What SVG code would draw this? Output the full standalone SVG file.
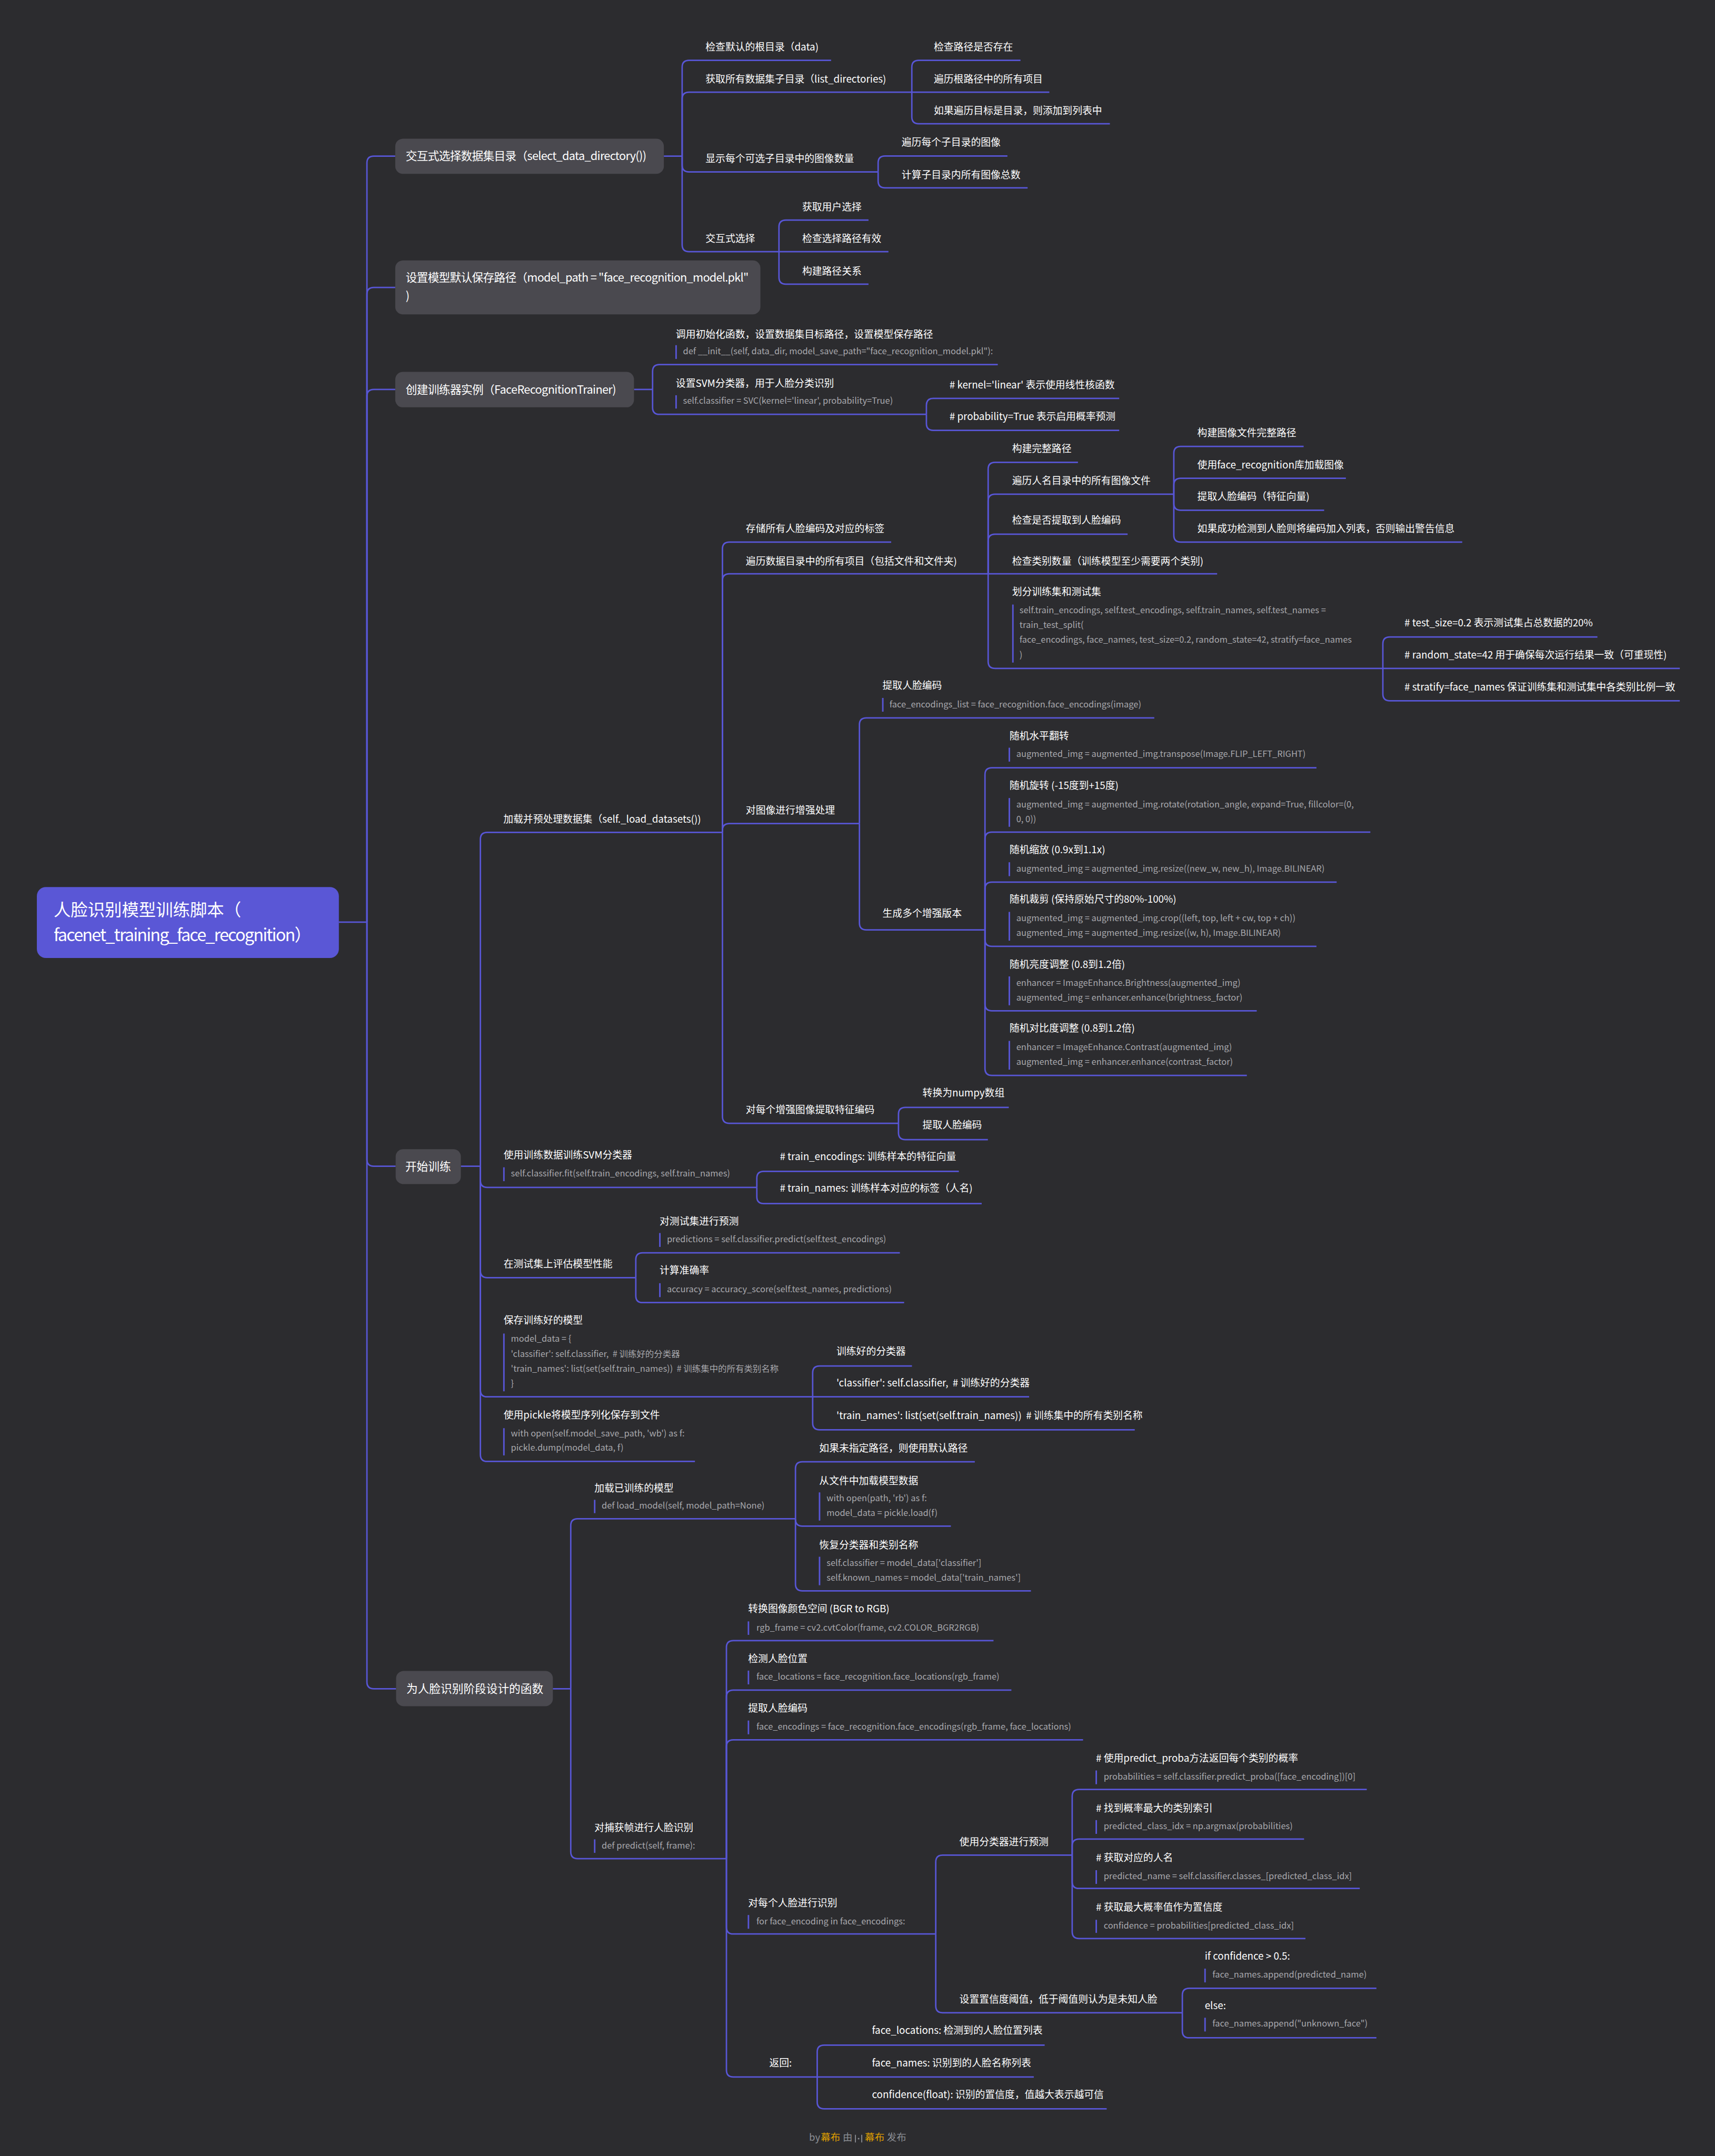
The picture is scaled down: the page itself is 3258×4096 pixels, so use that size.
<svg xmlns="http://www.w3.org/2000/svg" width="3258" height="4096" viewBox="0 0 3258 4096">
<style>
text{font-family:'Noto Sans CJK SC','Noto Sans',sans-serif;white-space:pre}
.root{font-size:12.4px;fill:#ffffff}
.l1{font-size:8.3px;fill:#ffffff}
.t{font-size:7.2px;fill:#ffffff}
.c{font-size:6.3px;fill:#a8a8ad}
.box{fill:#4a494f}
.rbox{fill:#5a57d6}
.bar{stroke:#5856d6;stroke-width:1.1}
.ln{fill:none;stroke:#5856d6;stroke-width:1.05}
.ft{font-size:7.1px;fill:#8b8e94}
.fo{font-size:7.1px;fill:#e0a000}
</style>
<rect x="0" y="0" width="3258" height="4096" fill="#2c2c2f"/>
<g transform="scale(2.61267)">
<g id="connectors" class="ln">
<path d="M246.4 670.5H266.8"/>
<path d="M266.8 670.5V118.5Q266.8 113.5 271.8 113.5H287.4"/>
<path d="M266.8 670.5V214Q266.8 209 271.8 209H287.4"/>
<path d="M266.8 670.5V288.2Q266.8 283.2 271.8 283.2H287.4"/>
<path d="M266.8 670.5V843Q266.8 848 271.8 848H287.7"/>
<path d="M266.8 670.5V1223Q266.8 1228 271.8 1228H288"/>
<path d="M482.7 113.5H496"/>
<path d="M496 113.5V48.9Q496 43.9 501 43.9H604.3"/>
<path d="M496 113.5V72Q496 67 501 67H663"/>
<path d="M496 113.5V120Q496 125 501 125H638.5"/>
<path d="M496 113.5V178Q496 183 501 183H566.4"/>
<path d="M663 67V48.9Q663 43.9 668 43.9H742"/>
<path d="M663 67H763"/>
<path d="M663 67V85Q663 90 668 90H807"/>
<path d="M638.5 125V118.4Q638.5 113.4 643.5 113.4H732.5"/>
<path d="M638.5 125V131.6Q638.5 136.6 643.5 136.6H747.2"/>
<path d="M566.4 183V165Q566.4 160 571.4 160H631.5"/>
<path d="M566.4 183H646"/>
<path d="M566.4 183V201.6Q566.4 206.6 571.4 206.6H631.5"/>
<path d="M461 283.2H474.5"/>
<path d="M474.5 283.2V270.1Q474.5 265.1 479.5 265.1H725.5"/>
<path d="M474.5 283.2V296.3Q474.5 301.3 479.5 301.3H673.6"/>
<path d="M673.6 301.3V294.7Q673.6 289.7 678.6 289.7H813.8"/>
<path d="M673.6 301.3V307.9Q673.6 312.9 678.6 312.9H813.8"/>
<path d="M335.1 848H349.3"/>
<path d="M349.3 848V610.3Q349.3 605.3 354.3 605.3H525.3"/>
<path d="M349.3 848V858.4Q349.3 863.4 354.3 863.4H550.3"/>
<path d="M349.3 848V924.1Q349.3 929.1 354.3 929.1H462.3"/>
<path d="M349.3 848V1010.7Q349.3 1015.7 354.3 1015.7H590.9"/>
<path d="M349.3 848V1057.7Q349.3 1062.7 354.3 1062.7H505.3"/>
<path d="M525.3 605.3V399.2Q525.3 394.2 530.3 394.2H648"/>
<path d="M525.3 605.3V422.2Q525.3 417.2 530.3 417.2H718.5"/>
<path d="M525.3 605.3V603.9Q525.3 598.9 530.3 598.9H624.9"/>
<path d="M525.3 605.3V811.8Q525.3 816.8 530.3 816.8H653.3"/>
<path d="M718.5 417.2V341.2Q718.5 336.2 723.5 336.2H783.8"/>
<path d="M718.5 417.2V364.4Q718.5 359.4 723.5 359.4H853.5"/>
<path d="M718.5 417.2V393.4Q718.5 388.4 723.5 388.4H819.9"/>
<path d="M718.5 417.2H885"/>
<path d="M718.5 417.2V481Q718.5 486 723.5 486H1005.5"/>
<path d="M853.5 359.4V329.6Q853.5 324.6 858.5 324.6H947.9"/>
<path d="M853.5 359.4V352.8Q853.5 347.8 858.5 347.8H978.6"/>
<path d="M853.5 359.4V366Q853.5 371 858.5 371H962.8"/>
<path d="M853.5 359.4V389.2Q853.5 394.2 858.5 394.2H1063.2"/>
<path d="M1005.5 486V468.2Q1005.5 463.2 1010.5 463.2H1161.5"/>
<path d="M1005.5 486H1221.4"/>
<path d="M1005.5 486V504.6Q1005.5 509.6 1010.5 509.6H1221.4"/>
<path d="M624.9 598.9V527Q624.9 522 629.9 522H839.3"/>
<path d="M624.9 598.9V671.2Q624.9 676.2 629.9 676.2H716.2"/>
<path d="M716.2 676.2V563.3Q716.2 558.3 721.2 558.3H957.2"/>
<path d="M716.2 676.2V610.1Q716.2 605.1 721.2 605.1H996.4"/>
<path d="M716.2 676.2V646.4Q716.2 641.4 721.2 641.4H971.9"/>
<path d="M716.2 676.2V683.1Q716.2 688.1 721.2 688.1H957.2"/>
<path d="M716.2 676.2V730Q716.2 735 721.2 735H913.8"/>
<path d="M716.2 676.2V777Q716.2 782 721.2 782H906.6"/>
<path d="M653.3 816.8V810.3Q653.3 805.3 658.3 805.3H733.5"/>
<path d="M653.3 816.8V823.7Q653.3 828.7 658.3 828.7H718.3"/>
<path d="M550.3 863.4V856.8Q550.3 851.8 555.3 851.8H697.2"/>
<path d="M550.3 863.4V870.2Q550.3 875.2 555.3 875.2H713.8"/>
<path d="M462.3 929.1V916Q462.3 911 467.3 911H654.3"/>
<path d="M462.3 929.1V942.2Q462.3 947.2 467.3 947.2H657.4"/>
<path d="M590.9 1015.7V998.3Q590.9 993.3 595.9 993.3H663.1"/>
<path d="M590.9 1015.7H748.3"/>
<path d="M590.9 1015.7V1034.7Q590.9 1039.7 595.9 1039.7H825.1"/>
<path d="M402 1228H415"/>
<path d="M415 1228V1109.4Q415 1104.4 420 1104.4H578.4"/>
<path d="M415 1228V1346.5Q415 1351.5 420 1351.5H528.2"/>
<path d="M578.4 1104.4V1067.9Q578.4 1062.9 583.4 1062.9H708.8"/>
<path d="M578.4 1104.4V1104.7Q578.4 1109.7 583.4 1109.7H691.4"/>
<path d="M578.4 1104.4V1151.8Q578.4 1156.8 583.4 1156.8H749.6"/>
<path d="M528.2 1351.5V1198Q528.2 1193 533.2 1193H722.4"/>
<path d="M528.2 1351.5V1234Q528.2 1229 533.2 1229H735.4"/>
<path d="M528.2 1351.5V1270.1Q528.2 1265.1 533.2 1265.1H787.5"/>
<path d="M528.2 1351.5V1401.3Q528.2 1406.3 533.2 1406.3H680.4"/>
<path d="M528.2 1351.5V1505.3Q528.2 1510.3 533.2 1510.3H594.2"/>
<path d="M680.4 1406.3V1354Q680.4 1349 685.4 1349H779.6"/>
<path d="M680.4 1406.3V1458.6Q680.4 1463.6 685.4 1463.6H859.7"/>
<path d="M779.6 1349V1306.2Q779.6 1301.2 784.6 1301.2H993.8"/>
<path d="M779.6 1349V1342.3Q779.6 1337.3 784.6 1337.3H948.2"/>
<path d="M779.6 1349V1368.2Q779.6 1373.2 784.6 1373.2H988.7"/>
<path d="M779.6 1349V1404.6Q779.6 1409.6 784.6 1409.6H949.2"/>
<path d="M859.7 1463.6V1450.8Q859.7 1445.8 864.7 1445.8H1000.8"/>
<path d="M859.7 1463.6V1476.8Q859.7 1481.8 864.7 1481.8H1000.8"/>
<path d="M594.2 1510.3V1492.1Q594.2 1487.1 599.2 1487.1H759.6"/>
<path d="M594.2 1510.3H751.7"/>
<path d="M594.2 1510.3V1528.4Q594.2 1533.4 599.2 1533.4H804.7"/>
</g>

<g id="root"><rect class="rbox" x="26.8" y="645" width="219.6" height="51.6" rx="6.5"/><text class="root" x="39" y="665.8">人脸识别模型训练脚本（</text><text class="root" x="39" y="684.4" textLength="187.5">facenet_training_face_recognition）</text></g>

<g id="n-select"><rect class="box" x="287.4" y="100.9" width="195.3" height="25.5" rx="5.5"/><text class="l1" x="295" y="116.5" textLength="175">交互式选择数据集目录（select_data_directory())</text></g>
<g id="n-check-root"><text class="t" x="513" y="36.7">检查默认的根目录（data)</text></g>
<g id="n-list-dirs"><text class="t" x="513" y="60">获取所有数据集子目录（list_directories)</text></g>
<g id="n-path-exists"><text class="t" x="679" y="36.7">检查路径是否存在</text></g>
<g id="n-iter-root"><text class="t" x="679" y="60">遍历根路径中的所有项目</text></g>
<g id="n-add-dir"><text class="t" x="679" y="83.1">如果遍历目标是目录，则添加到列表中</text></g>
<g id="n-show-count"><text class="t" x="513" y="118">显示每个可选子目录中的图像数量</text></g>
<g id="n-iter-sub"><text class="t" x="655.6" y="106">遍历每个子目录的图像</text></g>
<g id="n-count-total"><text class="t" x="655.6" y="129.9">计算子目录内所有图像总数</text></g>
<g id="n-interactive"><text class="t" x="513" y="176">交互式选择</text></g>
<g id="n-get-choice"><text class="t" x="583.3" y="153">获取用户选择</text></g>
<g id="n-check-choice"><text class="t" x="583.3" y="176">检查选择路径有效</text></g>
<g id="n-build-rel"><text class="t" x="583.3" y="199.8">构建路径关系</text></g>

<g id="n-model-path"><rect class="box" x="287.4" y="189.4" width="265.5" height="39.2" rx="5.5"/><text class="l1" x="295" y="204.6" textLength="249.4">设置模型默认保存路径（model_path = "face_recognition_model.pkl"</text><text class="l1" x="295" y="218">)</text></g>

<g id="n-trainer"><rect class="box" x="287.4" y="270.4" width="173.6" height="25.8" rx="5.5"/><text class="l1" x="295" y="286.2" textLength="153">创建训练器实例（FaceRecognitionTrainer)</text></g>
<g id="n-init"><text class="t" x="491.4" y="245.6">调用初始化函数，设置数据集目标路径，设置模型保存路径</text><line class="bar" x1="491.6" y1="251" x2="491.6" y2="261"/><text class="c" x="496.6" y="257.5">def __init__(self, data_dir, model_save_path="face_recognition_model.pkl"):</text></g>
<g id="n-svm"><text class="t" x="491.4" y="281.2">设置SVM分类器，用于人脸分类识别</text><line class="bar" x1="491.6" y1="287.4" x2="491.6" y2="297.1"/><text class="c" x="496.6" y="293.6">self.classifier = SVC(kernel='linear', probability=True)</text></g>
<g id="n-kernel"><text class="t" x="690.4" y="282.3"># kernel='linear' 表示使用线性核函数</text></g>
<g id="n-prob"><text class="t" x="690.4" y="305.3"># probability=True 表示启用概率预测</text></g>

<g id="n-start"><rect class="box" x="287.7" y="835.6" width="47.4" height="25.4" rx="5.5"/><text class="l1" x="294.7" y="851.2">开始训练</text></g>
<g id="n-load-ds"><text class="t" x="366" y="598.3">加载并预处理数据集（self._load_datasets())</text></g>
<g id="n-store"><text class="t" x="542.3" y="386.8">存储所有人脸编码及对应的标签</text></g>
<g id="n-iter-data"><text class="t" x="542.3" y="410.5">遍历数据目录中的所有项目（包括文件和文件夹)</text></g>
<g id="n-full-path"><text class="t" x="735.9" y="328.7">构建完整路径</text></g>
<g id="n-iter-person"><text class="t" x="735.9" y="352.1">遍历人名目录中的所有图像文件</text></g>
<g id="n-img-path"><text class="t" x="870.6" y="317.2">构建图像文件完整路径</text></g>
<g id="n-load-img"><text class="t" x="870.6" y="340.6">使用face_recognition库加载图像</text></g>
<g id="n-extract-feat"><text class="t" x="870.6" y="363.7">提取人脸编码（特征向量)</text></g>
<g id="n-if-detect"><text class="t" x="870.6" y="386.8">如果成功检测到人脸则将编码加入列表，否则输出警告信息</text></g>
<g id="n-check-enc"><text class="t" x="735.9" y="380.9">检查是否提取到人脸编码</text></g>
<g id="n-check-cls"><text class="t" x="735.9" y="410.5">检查类别数量（训练模型至少需要两个类别)</text></g>
<g id="n-split"><text class="t" x="735.9" y="432.9">划分训练集和测试集</text><line class="bar" x1="736.5" y1="439.6" x2="736.5" y2="481.8"/><text class="c" x="741.3" y="446">self.train_encodings, self.test_encodings, self.train_names, self.test_names =</text><text class="c" x="741.3" y="456.6">train_test_split(</text><text class="c" x="741.3" y="467.5">face_encodings, face_names, test_size=0.2, random_state=42, stratify=face_names</text><text class="c" x="741.3" y="478.3">)</text></g>
<g id="n-test-size"><text class="t" x="1021.2" y="455.6"># test_size=0.2 表示测试集占总数据的20%</text></g>
<g id="n-random-state"><text class="t" x="1021.2" y="478.8"># random_state=42 用于确保每次运行结果一致（可重现性)</text></g>
<g id="n-stratify"><text class="t" x="1021.2" y="502"># stratify=face_names 保证训练集和测试集中各类别比例一致</text></g>
<g id="n-augment"><text class="t" x="542.3" y="591.9">对图像进行增强处理</text></g>
<g id="n-extract1"><text class="t" x="641.7" y="501">提取人脸编码</text><line class="bar" x1="641.9" y1="507.5" x2="641.9" y2="517.5"/><text class="c" x="646.8" y="514.3">face_encodings_list = face_recognition.face_encodings(image)</text></g>
<g id="n-gen-aug"><text class="t" x="641.7" y="666.9">生成多个增强版本</text></g>
<g id="n-flip"><text class="t" x="734" y="537.6">随机水平翻转</text><line class="bar" x1="733.9" y1="543.7" x2="733.9" y2="553.8"/><text class="c" x="739" y="550.4">augmented_img = augmented_img.transpose(Image.FLIP_LEFT_RIGHT)</text></g>
<g id="n-rotate"><text class="t" x="734" y="573.7">随机旋转 (-15度到+15度)</text><line class="bar" x1="733.9" y1="580.3" x2="733.9" y2="601.2"/><text class="c" x="739" y="587">augmented_img = augmented_img.rotate(rotation_angle, expand=True, fillcolor=(0,</text><text class="c" x="739" y="597.8">0, 0))</text></g>
<g id="n-scale"><text class="t" x="734" y="620.5">随机缩放 (0.9x到1.1x)</text><line class="bar" x1="733.9" y1="627" x2="733.9" y2="637.1"/><text class="c" x="739" y="633.7">augmented_img = augmented_img.resize((new_w, new_h), Image.BILINEAR)</text></g>
<g id="n-crop"><text class="t" x="734" y="656.6">随机裁剪 (保持原始尺寸的80%-100%)</text><line class="bar" x1="733.9" y1="663.1" x2="733.9" y2="684"/><text class="c" x="739" y="669.8">augmented_img = augmented_img.crop((left, top, left + cw, top + ch))</text><text class="c" x="739" y="680.6">augmented_img = augmented_img.resize((w, h), Image.BILINEAR)</text></g>
<g id="n-bright"><text class="t" x="734" y="703.8">随机亮度调整 (0.8到1.2倍)</text><line class="bar" x1="733.9" y1="710" x2="733.9" y2="731"/><text class="c" x="739" y="716.7">enhancer = ImageEnhance.Brightness(augmented_img)</text><text class="c" x="739" y="727.6">augmented_img = enhancer.enhance(brightness_factor)</text></g>
<g id="n-contrast"><text class="t" x="734" y="750.3">随机对比度调整 (0.8到1.2倍)</text><line class="bar" x1="733.9" y1="756.9" x2="733.9" y2="777.8"/><text class="c" x="739" y="763.6">enhancer = ImageEnhance.Contrast(augmented_img)</text><text class="c" x="739" y="774.4">augmented_img = enhancer.enhance(contrast_factor)</text></g>
<g id="n-aug-extract"><text class="t" x="542.3" y="809.4">对每个增强图像提取特征编码</text></g>
<g id="n-numpy"><text class="t" x="670.8" y="797.4">转换为numpy数组</text></g>
<g id="n-extract2"><text class="t" x="670.8" y="820.8">提取人脸编码</text></g>
<g id="n-fit"><text class="t" x="366.2" y="842.6">使用训练数据训练SVM分类器</text><line class="bar" x1="366.4" y1="848.8" x2="366.4" y2="858.9"/><text class="c" x="371.5" y="855.5">self.classifier.fit(self.train_encodings, self.train_names)</text></g>
<g id="n-train-enc"><text class="t" x="567" y="843.5"># train_encodings: 训练样本的特征向量</text></g>
<g id="n-train-names"><text class="t" x="567" y="866.5"># train_names: 训练样本对应的标签（人名)</text></g>
<g id="n-evaluate"><text class="t" x="366.2" y="921.8">在测试集上评估模型性能</text></g>
<g id="n-predict-test"><text class="t" x="479.6" y="890.5">对测试集进行预测</text><line class="bar" x1="479.8" y1="896.6" x2="479.8" y2="906.7"/><text class="c" x="484.9" y="903.3">predictions = self.classifier.predict(self.test_encodings)</text></g>
<g id="n-accuracy"><text class="t" x="479.6" y="926.4">计算准确率</text><line class="bar" x1="479.8" y1="933.1" x2="479.8" y2="943.2"/><text class="c" x="484.9" y="939.8">accuracy = accuracy_score(self.test_names, predictions)</text></g>
<g id="n-save"><text class="t" x="366.2" y="962.7">保存训练好的模型</text><line class="bar" x1="366.4" y1="969.7" x2="366.4" y2="1011.7"/><text class="c" x="371.5" y="975.6">model_data = {</text><text class="c" x="371.5" y="986.7">'classifier': self.classifier,  # 训练好的分类器</text><text class="c" x="371.5" y="997.4">'train_names': list(set(self.train_names))  # 训练集中的所有类别名称</text><text class="c" x="371.5" y="1008">}</text></g>
<g id="n-trained-cls"><text class="t" x="608.2" y="985.3">训练好的分类器</text></g>
<g id="n-cls-entry"><text class="t" x="608.2" y="1008.3">'classifier': self.classifier,  # 训练好的分类器</text></g>
<g id="n-names-entry"><text class="t" x="608.2" y="1032">'train_names': list(set(self.train_names))  # 训练集中的所有类别名称</text></g>
<g id="n-pickle"><text class="t" x="366.2" y="1031.4">使用pickle将模型序列化保存到文件</text><line class="bar" x1="366.4" y1="1038.5" x2="366.4" y2="1058.3"/><text class="c" x="371.5" y="1044.4">with open(self.model_save_path, 'wb') as f:</text><text class="c" x="371.5" y="1055">pickle.dump(model_data, f)</text></g>

<g id="n-recog"><rect class="box" x="288" y="1215" width="114" height="25.7" rx="5.5"/><text class="l1" x="295.5" y="1230.8">为人脸识别阶段设计的函数</text></g>
<g id="n-load-model"><text class="t" x="432.2" y="1084.8">加载已训练的模型</text><line class="bar" x1="432.4" y1="1090.6" x2="432.4" y2="1100.3"/><text class="c" x="437.5" y="1096.8">def load_model(self, model_path=None)</text></g>
<g id="n-default-path"><text class="t" x="595.7" y="1055.7">如果未指定路径，则使用默认路径</text></g>
<g id="n-load-file"><text class="t" x="595.7" y="1079.2">从文件中加载模型数据</text><line class="bar" x1="595.9" y1="1085.2" x2="595.9" y2="1105.7"/><text class="c" x="601" y="1091.7">with open(path, 'rb') as f:</text><text class="c" x="601" y="1102.4">model_data = pickle.load(f)</text></g>
<g id="n-restore"><text class="t" x="595.7" y="1126.1">恢复分类器和类别名称</text><line class="bar" x1="595.9" y1="1132" x2="595.9" y2="1152.7"/><text class="c" x="601" y="1138.6">self.classifier = model_data['classifier']</text><text class="c" x="601" y="1149.3">self.known_names = model_data['train_names']</text></g>
<g id="n-predict"><text class="t" x="432.2" y="1331.7">对捕获帧进行人脸识别</text><line class="bar" x1="432.4" y1="1337.5" x2="432.4" y2="1347.3"/><text class="c" x="437.5" y="1344.2">def predict(self, frame):</text></g>
<g id="n-bgr"><text class="t" x="544" y="1172.5">转换图像颜色空间 (BGR to RGB)</text><line class="bar" x1="544.2" y1="1179" x2="544.2" y2="1188.8"/><text class="c" x="550" y="1185.8">rgb_frame = cv2.cvtColor(frame, cv2.COLOR_BGR2RGB)</text></g>
<g id="n-detect"><text class="t" x="544" y="1208.6">检测人脸位置</text><line class="bar" x1="544.2" y1="1214.8" x2="544.2" y2="1224.8"/><text class="c" x="550" y="1221.5">face_locations = face_recognition.face_locations(rgb_frame)</text></g>
<g id="n-encode"><text class="t" x="544" y="1244.6">提取人脸编码</text><line class="bar" x1="544.2" y1="1251.1" x2="544.2" y2="1261.1"/><text class="c" x="550" y="1257.8">face_encodings = face_recognition.face_encodings(rgb_frame, face_locations)</text></g>
<g id="n-each-face"><text class="t" x="544" y="1386.3">对每个人脸进行识别</text><line class="bar" x1="544.2" y1="1392.5" x2="544.2" y2="1402.5"/><text class="c" x="550" y="1399.2">for face_encoding in face_encodings:</text></g>
<g id="n-classify"><text class="t" x="697.6" y="1341.8">使用分类器进行预测</text></g>
<g id="n-proba"><text class="t" x="796.9" y="1281"># 使用predict_proba方法返回每个类别的概率</text><line class="bar" x1="797.1" y1="1287.4" x2="797.1" y2="1297.4"/><text class="c" x="802.5" y="1294.1">probabilities = self.classifier.predict_proba([face_encoding])[0]</text></g>
<g id="n-argmax"><text class="t" x="796.9" y="1317.3"># 找到概率最大的类别索引</text><line class="bar" x1="797.1" y1="1323.5" x2="797.1" y2="1333.5"/><text class="c" x="802.5" y="1330.2">predicted_class_idx = np.argmax(probabilities)</text></g>
<g id="n-name"><text class="t" x="796.9" y="1353.4"># 获取对应的人名</text><line class="bar" x1="797.1" y1="1359.9" x2="797.1" y2="1369.9"/><text class="c" x="802.5" y="1366.6">predicted_name = self.classifier.classes_[predicted_class_idx]</text></g>
<g id="n-conf"><text class="t" x="796.9" y="1389.5"># 获取最大概率值作为置信度</text><line class="bar" x1="797.1" y1="1396" x2="797.1" y2="1405.5"/><text class="c" x="802.5" y="1402.4">confidence = probabilities[predicted_class_idx]</text></g>
<g id="n-threshold"><text class="t" x="697.6" y="1456.3">设置置信度阈值，低于阈值则认为是未知人脸</text></g>
<g id="n-if"><text class="t" x="876" y="1424.8">if confidence &gt; 0.5:</text><line class="bar" x1="876.2" y1="1431.5" x2="876.2" y2="1441.5"/><text class="c" x="881.6" y="1437.9">face_names.append(predicted_name)</text></g>
<g id="n-else"><text class="t" x="876" y="1461">else:</text><line class="bar" x1="876.2" y1="1467.2" x2="876.2" y2="1477.2"/><text class="c" x="881.6" y="1473.7">face_names.append("unknown_face")</text></g>
<g id="n-return"><text class="t" x="559.4" y="1502.5">返回:</text></g>
<g id="n-ret-loc"><text class="t" x="634" y="1479">face_locations: 检测到的人脸位置列表</text></g>
<g id="n-ret-names"><text class="t" x="634" y="1502.5">face_names: 识别到的人脸名称列表</text></g>
<g id="n-ret-conf"><text class="t" x="634" y="1525.8">confidence(float): 识别的置信度，值越大表示越可信</text></g>

<g id="footer">
<text class="ft" x="588.3" y="1556.8">by</text>
<text class="fo" x="596.8" y="1556.8">幕布</text>
<text class="ft" x="612.8" y="1556.8">由</text>
<g fill="#8b8e94" stroke="#8b8e94" stroke-width="0.7" stroke-linecap="round"><line x1="622" y1="1552.6" x2="622" y2="1557.6"/><line x1="626.6" y1="1552.6" x2="626.6" y2="1557.6"/><circle cx="624.3" cy="1555.1" r="0.6" stroke="none"/></g>
<text class="fo" x="628.9" y="1556.8">幕布</text>
<text class="ft" x="644.8" y="1556.8">发布</text>
</g>
</g>
</svg>
